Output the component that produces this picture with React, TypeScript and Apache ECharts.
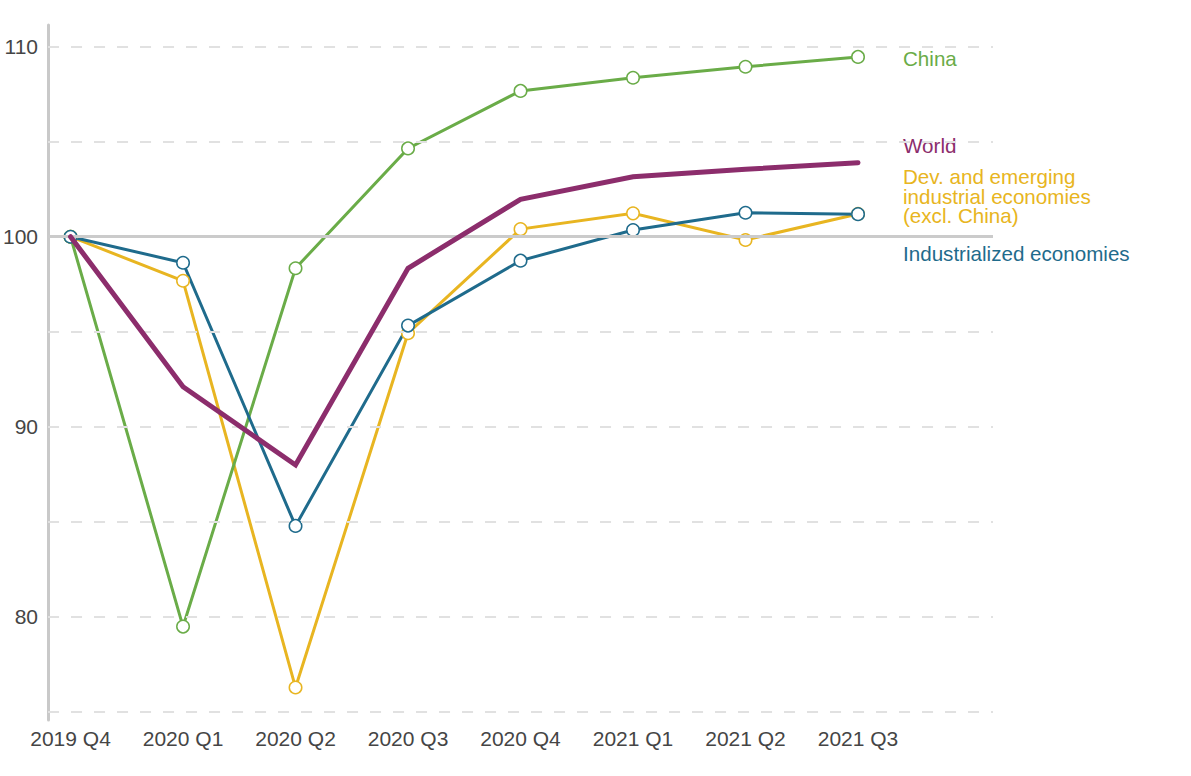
import React, { useEffect, useRef } from "react";
import * as echarts from "echarts";

const categories = ["2019 Q4", "2020 Q1", "2020 Q2", "2020 Q3", "2020 Q4", "2021 Q1", "2021 Q2", "2021 Q3"];
const china = [100, 79.47, 98.34, 104.65, 107.68, 108.37, 108.95, 109.47];
const world = [100, 92.1, 87.98, 98.34, 101.97, 103.16, 103.55, 103.9];
const devEmerging = [100, 97.68, 76.26, 94.92, 100.4, 101.23, 99.83, 101.2];
const industrialized = [100, 98.63, 84.77, 95.32, 98.74, 100.35, 101.26, 101.19];
const yLabelValues = [80, 90, 100, 110];
const dashedGridValues = [75, 80, 85, 90, 95, 105, 110];
const baselineValue = 100;

const labelChina = "China";
const labelWorld = "World";
const labelDev = ["Dev. and emerging", "industrial economies", "(excl. China)"];
const labelInd = "Industrialized economies";

const COLORS = {
  china: "#6aac48",
  world: "#8c2d6c",
  dev: "#e8b521",
  ind: "#1f6b8c",
};

const FONT = 'Arial, "Liberation Sans", Helvetica, sans-serif';

function pairs(values: number[]) {
  return values.map((v, i) => [i, v]);
}

export default function App() {
  const ref = useRef<HTMLDivElement>(null);
  useEffect(() => {
    if (!ref.current) return;
    const chart = echarts.init(ref.current, undefined, { renderer: "svg" });
    const lineSeries = (name: string, values: number[], color: string, width: number, z: number) => ({
      type: "line",
      name,
      data: pairs(values),
      z,
      symbol: "none",
      showSymbol: false,
      lineStyle: { color, width, cap: "round", join: "miter" },
      emphasis: { disabled: true },
    });
    const markerSeries = (name: string, values: number[], color: string, z: number) => ({
      type: "scatter",
      name: name + " markers",
      data: pairs(values),
      z,
      symbol: "circle",
      symbolSize: 12.5,
      itemStyle: { color: "#ffffff", borderColor: color, borderWidth: 1.5, opacity: 1 },
      emphasis: { disabled: true },
    });
    const labelFont = `20.6px ${FONT}`;
    chart.setOption({
      animation: false,
      backgroundColor: "#ffffff",
      grid: { left: 46, right: 198, top: 25, bottom: 56, containLabel: false },
      xAxis: {
        type: "value",
        min: -0.2,
        max: 8.2,
        axisLine: { show: false, onZero: false },
        axisTick: { show: false },
        splitLine: { show: false },
        axisLabel: {
          customValues: categories.map((_, i) => i),
          formatter: (v: number) => categories[Math.round(v)] ?? "",
          color: "#454545",
          fontSize: 21,
          fontFamily: FONT,
          margin: 8,
        },
      },
      yAxis: {
        type: "value",
        min: 74.55,
        max: 111.15,
        axisLine: { show: true, onZero: false, lineStyle: { color: "#c9c9c9", width: 3 } },
        axisTick: { show: false },
        splitLine: { show: false },
        axisLabel: {
          customValues: yLabelValues,
          color: "#454545",
          fontSize: 21,
          fontFamily: FONT,
          margin: 10,
        },
      },
      series: [
        {
          type: "line",
          data: [],
          z: 1,
          silent: true,
          markLine: {
            silent: true,
            symbol: "none",
            label: { show: false },
            emphasis: { disabled: true },
            data: dashedGridValues.map((v) => ({
              yAxis: v,
              lineStyle: { color: "#e1e1e1", width: 2, type: [11, 12] },
            })),
          },
        },
        lineSeries(labelDev.join(" "), devEmerging, COLORS.dev, 3, 2),
        lineSeries(labelChina, china, COLORS.china, 3, 2),
        lineSeries(labelInd, industrialized, COLORS.ind, 3, 2),
        {
          type: "line",
          data: [],
          z: 3,
          silent: true,
          markLine: {
            silent: true,
            symbol: "none",
            label: { show: false },
            emphasis: { disabled: true },
            data: [{ yAxis: baselineValue, lineStyle: { color: "#cbcbcb", width: 3, type: "solid" } }],
          },
        },
        markerSeries(labelDev.join(" "), devEmerging, COLORS.dev, 4),
        markerSeries(labelChina, china, COLORS.china, 4),
        markerSeries(labelInd, industrialized, COLORS.ind, 4),
        lineSeries(labelWorld, world, COLORS.world, 5, 6),
      ],
      graphic: [
        { type: "text", x: 903, y: 58, style: { text: labelChina, fill: COLORS.china, font: labelFont, textVerticalAlign: "middle" } },
        { type: "text", x: 903, y: 145, style: { text: labelWorld, fill: COLORS.world, font: labelFont, textVerticalAlign: "middle" } },
        {
          type: "text",
          x: 903,
          y: 196,
          style: { text: labelDev.join("\n"), fill: COLORS.dev, font: labelFont, lineHeight: 19.3, textVerticalAlign: "middle" },
        },
        { type: "text", x: 903, y: 253, style: { text: labelInd, fill: COLORS.ind, font: labelFont, textVerticalAlign: "middle" } },
      ],
    });
    return () => chart.dispose();
  }, []);
  return (
    <div
      ref={ref}
      style={{ position: "fixed", left: 0, top: 0, width: 1191, height: 776, background: "#fff" }}
    />
  );
}
